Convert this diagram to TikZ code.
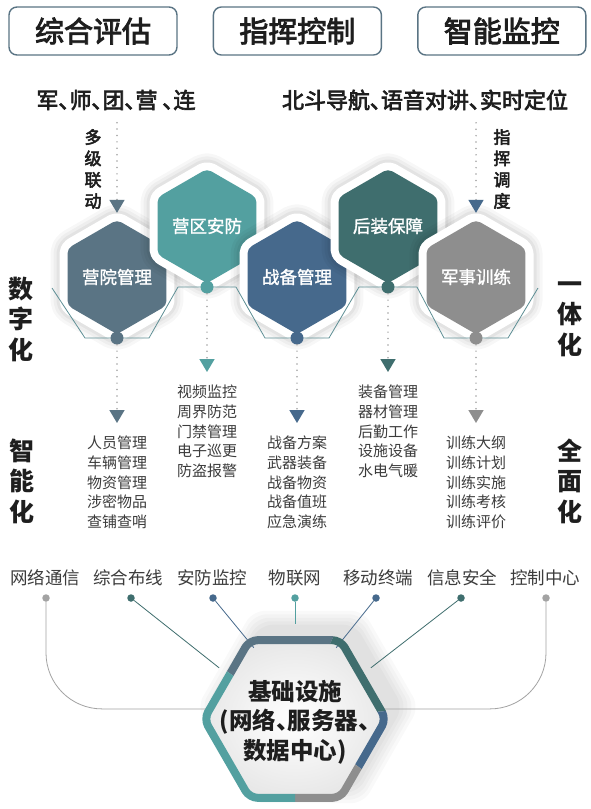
\documentclass[tikz,border=0pt]{standalone}
\usepackage{fontspec}
\setmainfont{Noto Sans CJK SC}[RawFeature=+palt]
\newfontfamily\medfont{Noto Sans CJK SC}[RawFeature=+palt,FakeBold=3]
\newfontfamily\semifont{Noto Sans CJK SC}[RawFeature=+palt,FakeBold=1.5]
\usepackage{tikz}
\usetikzlibrary{arrows.meta,positioning,calc,shapes.geometric}
\definecolor{cellslate}{HTML}{5A7484}
\definecolor{cellteal}{HTML}{53A0A0}
\definecolor{cellsteel}{HTML}{46698C}
\definecolor{celldteal}{HTML}{3F6E6E}
\definecolor{cellgray}{HTML}{8E8E8E}
\definecolor{dotgray}{HTML}{A3A3A3}
\definecolor{linkteal}{HTML}{5E8F95}
\definecolor{textgray}{HTML}{3C3C3C}
\definecolor{inkblack}{HTML}{1E1E1E}
\newcommand\hexpath[2]{($(#1)+(0,{0.866*#2})$) -- ($(#1)+(60:#2)$) -- ($(#1)+(0:#2)$) -- ($(#1)+(-60:#2)$) -- ($(#1)+(-120:#2)$) -- ($(#1)+(180:#2)$) -- ($(#1)+(120:#2)$) -- cycle}
\tikzset{
  topbox/.style={draw=cellslate,line width=1.4pt,rounded corners=8pt,fill=white,minimum width=168pt,minimum height=48pt,inner sep=0pt,text=inkblack,font=\fontsize{29}{32}\medfont},
  rowtext/.style={text=inkblack,font=\fontsize{22}{24}\medfont},
  vtext/.style={align=center,text=inkblack,font=\fontsize{17}{21.3}\medfont},
  sidetext/.style={align=center,text=inkblack,font=\fontsize{25}{30.5}\selectfont\bfseries},
  hexcell/.style={regular polygon,regular polygon sides=6,shape border rotate=30,minimum size=100pt,inner sep=0pt,outer sep=0pt,rounded corners=5pt,line join=round,fill=#1,text=white,font=\fontsize{17.5}{20}\semifont,
    preaction={draw=black,opacity=0.03,line width=34pt},
    preaction={draw=black,opacity=0.035,line width=28pt},
    preaction={draw=black,opacity=0.045,line width=22pt},
    preaction={draw=white,line width=16pt}},
  celldot/.style={circle,fill=#1,minimum size=13pt,inner sep=0pt},
  listtext/.style={align=center,inner sep=0pt,text=textgray,font=\fontsize{15}{19.7}\selectfont},
  dotlink/.style={draw=dotgray,line width=1.7pt,line cap=round,dash pattern=on 0pt off 6.4pt,-{Triangle[width=15pt,length=13pt,color=#1,fill=#1]}},
  zigzag/.style={draw=linkteal,line width=0.8pt},
  baselabel/.style={text=textgray,font=\fontsize{17.5}{20}\selectfont},
  basedot/.style={circle,fill=#1,minimum size=7.5pt,inner sep=0pt},
  baselink/.style={draw=#1,line width=0.8pt},
  bighex/.style={regular polygon,regular polygon sides=6,shape border rotate=30,minimum size=190pt,inner sep=0pt,outer sep=0pt},
  ringseg/.style={draw=#1,line width=8pt,rounded corners=8pt,line join=round},
  basetext/.style={align=center,text=inkblack,font=\fontsize{23.5}{29.5}\selectfont\bfseries},
}
\begin{document}
\begin{tikzpicture}[x=1pt,y=1pt,node distance=35pt]
  \path[use as bounding box,fill=white] (0,0) rectangle (591,-809);
  % headings
  \node[topbox] (b1) at (93,-31) {综合评估};
  \node[topbox,right=of b1] (b2) {指挥控制};
  \node[topbox,right=of b2] (b3) {智能监控};
  \node[rowtext] (rowL) at (116,-100) {军、师、团、营\ 、连};
  \node[rowtext] (rowR) at (425,-100) {北斗导航、语音对讲、实时定位};
  \node[vtext] (tagL) at (93,-169) {多\\级\\联\\动};
  \node[vtext] (tagR) at (502,-169) {指\\挥\\调\\度};
  % hexagon cells
  \foreach \i/\x/\y/\col/\txt in {1/117/277/cellslate/营院管理,2/207/226/cellteal/营区安防,3/297/277/cellsteel/战备管理,4/388/226/celldteal/后装保障,5/476/277/cellgray/军事训练}{
    \node[hexcell=\col] (h\i) at (\x,-\y) {\txt};
    \coordinate (p\i) at ([yshift=-61pt]h\i.center);
  }
  \draw[dotlink=cellslate,shorten <=9pt,shorten >=7pt] (rowL.south -| h1) -- (h1.north);
  \draw[dotlink=cellsteel,shorten <=9pt,shorten >=7pt] (rowR.south -| h5) -- (h5.north);
  \draw[zigzag] (52,-288) -- ([xshift=-32pt]p1) -- ([xshift=32pt]p1) -- ([xshift=-29pt]p2) -- ([xshift=29pt]p2)
    -- ([xshift=-32pt]p3) -- ([xshift=32pt]p3) -- ([xshift=-29pt]p4) -- ([xshift=29pt]p4)
    -- ([xshift=-32pt]p5) -- ([xshift=32pt]p5) -- (538,-288);
  \foreach \i/\col/\txt in {1/cellslate/人员管理\\车辆管理\\物资管理\\涉密物品\\查铺查哨,
      2/cellteal/视频监控\\周界防范\\门禁管理\\电子巡更\\防盗报警,
      3/cellsteel/战备方案\\武器装备\\战备物资\\战备值班\\应急演练,
      4/celldteal/装备管理\\器材管理\\后勤工作\\设施设备\\水电气暖,
      5/cellgray/训练大纲\\训练计划\\训练实施\\训练考核\\训练评价}{
    \node[celldot=\col] (d\i) at (p\i) {};
    \node[listtext,anchor=north] (l\i) at ([yshift=-159pt]h\i.center) {\txt};
    \draw[dotlink=\col,shorten >=13pt] (d\i) -- (l\i.north);
  }
  \node[sidetext] (sL1) at (21,-319) {数\\字\\化};
  \node[sidetext] (sR1) at (570,-319) {一\\体\\化};
  \node[sidetext] (sL2) at (22,-481) {智\\能\\化};
  \node[sidetext] (sR2) at (570,-481) {全\\面\\化};
  % infrastructure
  \coordinate (bc) at (295,-719);
  \coordinate (bsh) at ($(bc)+(13,12)$);
  \foreach \r in {95,99,103,107,111} \fill[black,opacity=0.025,rounded corners=12pt] \hexpath{bsh}{\r};
  \shade[inner color=white,outer color=black!9] \hexpath{bc}{90};
  \node[bighex] (base) at (bc) {};
  \foreach \i/\x/\dx/\txt/\col in {1/45/46/网络通信/dotgray,2/128/131/综合布线/celldteal,3/212/213/安防监控/cellsteel,4/295/295/物联网/cellteal,5/378/376/移动终端/cellsteel,6/462/461/信息安全/celldteal,7/545/546/控制中心/dotgray}{
    \node[baselabel] (lab\i) at (\x,-578) {\txt};
    \node[basedot=\col] (bd\i) at (\dx,-598) {};
  }
  \draw[baselink=dotgray,rounded corners=56pt] (bd1) |- (base.173);
  \draw[baselink=dotgray,rounded corners=56pt] (bd7) |- (base.7);
  \foreach \i/\a/\col in {2/146/celldteal,3/120/cellsteel,4/90/cellteal,5/60/cellsteel,6/34/celldteal}
    \draw[baselink=\col] (bd\i) -- (base.\a);
  \foreach \a/\b/\col in {65/145/cellslate,5/65/celldteal,-37/5/cellsteel,-90/-37/cellgray,-215/-90/cellteal}{
    \begin{scope}
      \clip (bc) -- ++(\a:130) arc[start angle=\a,end angle=\b,radius=130] -- cycle;
      \draw[ringseg=\col] \hexpath{bc}{91};
    \end{scope}
  }
  \node[basetext] (btxt) at ([yshift=-3pt]bc) {基础设施\\(网络、服务器、\\数据中心)};
\end{tikzpicture}
\end{document}
